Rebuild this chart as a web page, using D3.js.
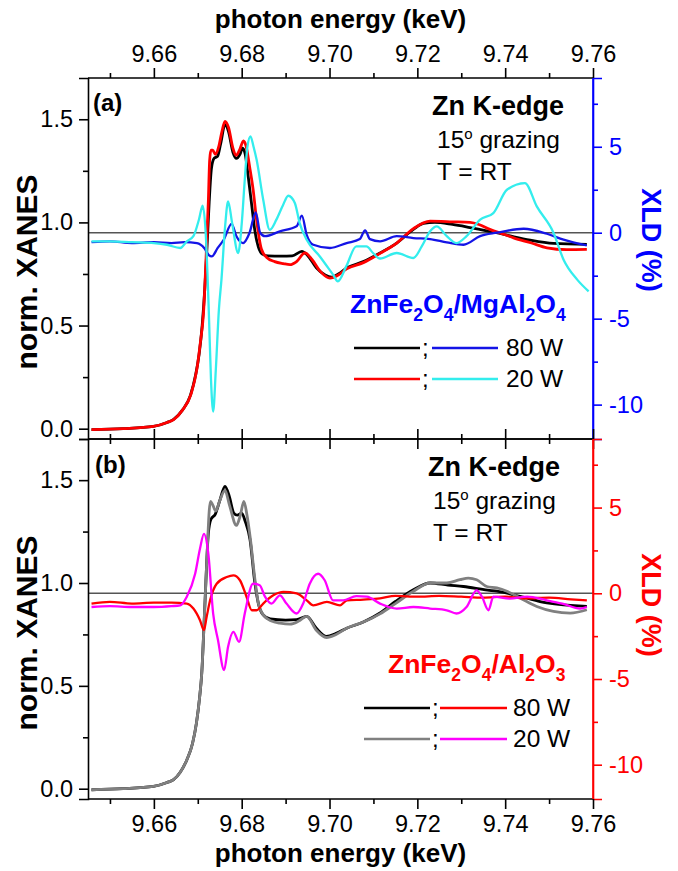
<!DOCTYPE html>
<html><head><meta charset="utf-8">
<script src="https://cdn.jsdelivr.net/npm/d3@7"></script>
<style>body{margin:0;background:#fff}svg{display:block}text{font-family:"Liberation Sans",Arial,sans-serif}</style>
</head><body><svg id="c" width="678" height="871"></svg>
<script>
// ---------- data ----------
const energyTicks = [9.66, 9.68, 9.70, 9.72, 9.74, 9.76];
const energyMinor = [9.65, 9.67, 9.69, 9.71, 9.73, 9.75];
const xanesTicks = [0.0, 0.5, 1.0, 1.5];
const xanesMinor = [0.25, 0.75, 1.25];
const xldTicks = [-10, -5, 0, 5];
const xldMinor = [-7.5, -2.5, 2.5, 7.5];

// panel (a) ZnFe2O4/MgAl2O4
const aXanes80 = [[9.6458,-0.005],[9.6530,0.0],[9.6599,0.011],[9.6630,0.03],[9.6645,0.045],[9.6665,0.09],[9.6683,0.16],[9.6695,0.26],[9.6703,0.36],[9.6710,0.50],[9.6716,0.68],[9.6721,0.88],[9.6726,1.10],[9.6731,1.26],[9.6737,1.31],[9.6745,1.32],[9.6752,1.38],[9.6762,1.475],[9.6770,1.44],[9.6780,1.34],[9.6788,1.31],[9.6796,1.33],[9.6802,1.36],[9.6808,1.33],[9.6815,1.22],[9.6823,1.08],[9.6830,0.96],[9.6838,0.88],[9.6848,0.845],[9.6860,0.838],[9.6890,0.837],[9.6915,0.838],[9.6937,0.86],[9.6950,0.84],[9.6970,0.78],[9.6990,0.745],[9.7005,0.735],[9.7020,0.75],[9.7040,0.78],[9.7077,0.81],[9.7115,0.852],[9.7153,0.90],[9.7191,0.966],[9.7214,0.995],[9.7240,1.0],[9.7280,0.99],[9.7320,0.975],[9.7380,0.95],[9.7420,0.93],[9.7457,0.914],[9.7510,0.898],[9.7586,0.893]];
const aXanes20 = [[9.6458,-0.005],[9.6530,0.0],[9.6599,0.011],[9.6630,0.03],[9.6645,0.044],[9.6665,0.09],[9.6685,0.17],[9.6698,0.29],[9.6706,0.42],[9.6713,0.56],[9.6720,0.885],[9.6724,1.10],[9.6727,1.30],[9.6730,1.35],[9.6734,1.35],[9.6740,1.33],[9.6748,1.37],[9.6755,1.44],[9.6762,1.49],[9.6770,1.46],[9.6780,1.36],[9.6787,1.325],[9.6795,1.35],[9.6804,1.395],[9.6810,1.37],[9.6818,1.27],[9.6826,1.16],[9.6834,1.01],[9.6845,0.87],[9.6857,0.83],[9.6875,0.81],[9.6895,0.80],[9.6910,0.795],[9.6925,0.81],[9.6944,0.852],[9.6960,0.82],[9.6980,0.76],[9.7001,0.73],[9.7020,0.745],[9.7039,0.775],[9.7077,0.805],[9.7115,0.85],[9.7153,0.90],[9.7191,0.97],[9.7229,1.006],[9.7280,1.003],[9.7320,1.0],[9.7340,0.99],[9.7365,0.966],[9.7400,0.94],[9.7419,0.925],[9.7460,0.90],[9.7495,0.877],[9.7540,0.868],[9.7586,0.869]];
const aXld80 = [[9.6458,-0.55],[9.6500,-0.5],[9.6550,-0.6],[9.6600,-0.55],[9.6640,-0.6],[9.6670,-0.55],[9.6698,-0.6],[9.6715,-0.9],[9.6725,-1.3],[9.6732,-1.38],[9.6745,-0.9],[9.6759,-0.41],[9.6777,0.52],[9.6788,-0.21],[9.6803,-0.6],[9.6818,0.0],[9.6832,1.18],[9.6842,0.0],[9.6853,-0.2],[9.6887,0.08],[9.6925,0.37],[9.6937,0.99],[9.6948,-0.12],[9.6963,-0.7],[9.7001,-0.89],[9.7039,-0.6],[9.7069,-0.37],[9.7081,0.14],[9.7092,-0.37],[9.7115,-0.5],[9.7153,-0.2],[9.7191,-0.31],[9.7229,-0.37],[9.7267,-0.56],[9.7305,-0.7],[9.7343,-0.2],[9.7381,0.0],[9.7442,0.23],[9.7495,-0.06],[9.7533,-0.4],[9.7586,-0.74]];
const aXld20 = [[9.6458,-0.5],[9.6500,-0.5],[9.6550,-0.55],[9.6600,-0.6],[9.6630,-0.7],[9.6660,-0.89],[9.6675,-0.5],[9.6690,-0.2],[9.6703,0.8],[9.6711,1.57],[9.6718,0.0],[9.6725,-4.5],[9.6730,-8.5],[9.6735,-10.4],[9.6741,-8.0],[9.6748,-4.5],[9.6754,-2.7],[9.6762,0.3],[9.6769,1.82],[9.6778,0.6],[9.6792,-1.18],[9.6800,0.5],[9.6807,3.08],[9.6813,5.0],[9.6820,5.6],[9.6827,5.0],[9.6834,4.24],[9.6849,1.92],[9.6864,0.17],[9.6879,0.76],[9.6894,1.6],[9.6906,2.15],[9.6921,1.73],[9.6932,0.56],[9.6948,-0.41],[9.6978,-1.38],[9.7008,-2.44],[9.7019,-2.83],[9.7038,-1.96],[9.7061,-0.8],[9.7084,-0.8],[9.7099,-1.18],[9.7115,-1.5],[9.7153,-1.18],[9.7191,-1.47],[9.7210,-0.8],[9.7229,0.08],[9.7244,0.37],[9.7267,-0.2],[9.7289,-0.6],[9.7312,-0.2],[9.7343,0.76],[9.7373,1.14],[9.7404,2.5],[9.7445,2.89],[9.7472,1.53],[9.7510,0.0],[9.7533,-1.57],[9.7564,-2.73],[9.7590,-3.41]];

// panel (b) ZnFe2O4/Al2O3
const bXanes80 = [[9.6458,-0.005],[9.6530,0.0],[9.6599,0.011],[9.6630,0.03],[9.6645,0.044],[9.6660,0.08],[9.6675,0.14],[9.6688,0.22],[9.6697,0.32],[9.6704,0.44],[9.6709,0.56],[9.6716,0.886],[9.6724,1.24],[9.6730,1.31],[9.6740,1.335],[9.6750,1.40],[9.6762,1.47],[9.6772,1.42],[9.6782,1.34],[9.6790,1.33],[9.6800,1.34],[9.6808,1.30],[9.6819,1.21],[9.6830,1.0],[9.6838,0.90],[9.6849,0.845],[9.6865,0.825],[9.6900,0.82],[9.6925,0.822],[9.6948,0.838],[9.6970,0.78],[9.6993,0.74],[9.7015,0.755],[9.7039,0.78],[9.7077,0.81],[9.7115,0.854],[9.7150,0.91],[9.7191,0.967],[9.7229,1.0],[9.7270,0.99],[9.7305,0.983],[9.7360,0.965],[9.7381,0.96],[9.7434,0.935],[9.7495,0.903],[9.7586,0.886]];
const bXanes20 = [[9.6458,-0.005],[9.6530,0.0],[9.6599,0.011],[9.6630,0.03],[9.6645,0.044],[9.6660,0.08],[9.6675,0.14],[9.6688,0.22],[9.6697,0.32],[9.6704,0.44],[9.6709,0.56],[9.6716,0.886],[9.6722,1.18],[9.6726,1.35],[9.6729,1.397],[9.6734,1.38],[9.6741,1.35],[9.6750,1.40],[9.6762,1.45],[9.6772,1.38],[9.6788,1.28],[9.6797,1.33],[9.6805,1.397],[9.6812,1.33],[9.6820,1.21],[9.6830,1.02],[9.6838,0.90],[9.6849,0.845],[9.6868,0.815],[9.6887,0.805],[9.6910,0.80],[9.6930,0.815],[9.6948,0.838],[9.6970,0.77],[9.6993,0.735],[9.7015,0.75],[9.7039,0.78],[9.7077,0.81],[9.7115,0.85],[9.7150,0.90],[9.7191,0.96],[9.7229,1.0],[9.7267,1.0],[9.7297,1.016],[9.7316,1.024],[9.7335,1.016],[9.7358,0.983],[9.7381,0.976],[9.7404,0.96],[9.7434,0.927],[9.7472,0.886],[9.7510,0.862],[9.7548,0.854],[9.7586,0.87]];
const bXld80 = [[9.6458,-0.6],[9.6500,-0.5],[9.6550,-0.6],[9.6600,-0.55],[9.6640,-0.55],[9.6675,-0.6],[9.6690,-0.89],[9.6705,-1.57],[9.6714,-2.15],[9.6720,-1.4],[9.6728,-0.41],[9.6743,0.56],[9.6766,0.95],[9.6781,1.05],[9.6796,0.76],[9.6811,-0.2],[9.6823,-0.99],[9.6834,-0.99],[9.6849,-0.6],[9.6872,-0.12],[9.6895,0.08],[9.6925,0.0],[9.6948,-0.41],[9.6963,-0.7],[9.6994,-0.5],[9.7024,-0.7],[9.7040,-0.41],[9.7077,-0.37],[9.7115,-0.3],[9.7150,-0.15],[9.7200,-0.2],[9.7250,-0.15],[9.7300,-0.2],[9.7350,-0.25],[9.7400,-0.2],[9.7450,-0.3],[9.7500,-0.25],[9.7550,-0.35],[9.7586,-0.41]];
const bXld20 = [[9.6458,-0.8],[9.6500,-0.75],[9.6550,-0.8],[9.6600,-0.8],[9.6640,-0.75],[9.6660,-0.7],[9.6675,-0.2],[9.6694,1.14],[9.6705,2.6],[9.6714,3.47],[9.6724,2.31],[9.6735,-1.18],[9.6746,-2.73],[9.6760,-4.48],[9.6769,-3.12],[9.6781,-2.25],[9.6794,-2.83],[9.6807,-1.18],[9.6826,0.56],[9.6841,0.47],[9.6853,-0.2],[9.6868,-0.6],[9.6887,-0.12],[9.6902,-0.6],[9.6925,-1.18],[9.6940,-0.6],[9.6955,0.56],[9.6974,1.14],[9.6989,0.76],[9.7008,-0.41],[9.7031,-0.41],[9.7061,-0.17],[9.7085,-0.2],[9.7115,-0.6],[9.7153,-0.89],[9.7191,-0.8],[9.7229,-0.89],[9.7267,-0.99],[9.7289,-1.18],[9.7312,-0.8],[9.7335,0.17],[9.7347,-0.2],[9.7362,-0.99],[9.7373,-0.2],[9.7410,-0.31],[9.7450,-0.2],[9.7495,-0.41],[9.7530,-0.6],[9.7571,-0.89],[9.7586,-0.8]];

// ---------- drawing ----------
const svg = d3.select("#c");
const L = 88, R = 593;
const x = d3.scaleLinear().domain([9.645, 9.76]).range([L, R]);
const FS = "23.5px";

function styleAxis(g, color, fs) {
  g.select(".domain").attr("stroke", color).attr("stroke-width", 1.6);
  g.selectAll(".tick line").attr("stroke", color).attr("stroke-width", 1.6);
  g.selectAll(".tick text").attr("fill", color).style("font-size", fs || FS)
    .style("font-family", '"Liberation Sans",Arial,sans-serif');
}

function panel(opt) {
  const top = opt.top, bot = opt.bot;
  const yL = d3.scaleLinear().domain([-0.05, 1.70]).range([bot, top]);
  const yR = d3.scaleLinear().domain([-12, 9]).range([bot, top]);
  const g = svg.append("g");

  // zero line of XLD
  g.append("line").attr("x1", L).attr("x2", R).attr("y1", yR(0)).attr("y2", yR(0))
    .attr("stroke", "#555").attr("stroke-width", 1.5);

  const lineL = d3.line().x(d => x(d[0])).y(d => yL(d[1])).curve(d3.curveMonotoneX);
  const lineR = d3.line().x(d => x(d[0])).y(d => yR(d[1])).curve(d3.curveMonotoneX);
  opt.xanes.forEach(s => g.append("path").datum(s.data).attr("d", lineL)
    .attr("fill", "none").attr("stroke", s.color).attr("stroke-width", 2.8).attr("stroke-linejoin", "round"));
  opt.xld.forEach(s => g.append("path").datum(s.data).attr("d", lineR)
    .attr("fill", "none").attr("stroke", s.color).attr("stroke-width", 2.3).attr("stroke-linejoin", "round"));

  // left axis
  const al = g.append("g").attr("transform", `translate(${L},0)`)
    .call(d3.axisLeft(yL).tickValues(xanesTicks).tickSize(9).tickPadding(6).tickFormat(d3.format(".1f")));
  styleAxis(al, "#000");
  const alm = g.append("g").attr("transform", `translate(${L},0)`)
    .call(d3.axisLeft(yL).tickValues(xanesMinor).tickSize(5).tickFormat(""));
  styleAxis(alm, "#000");
  alm.select(".domain").remove();

  // right axis
  const ar = g.append("g").attr("transform", `translate(${R},0)`)
    .call(d3.axisRight(yR).tickValues(xldTicks).tickSize(9).tickPadding(7).tickFormat(d3.format("d")));
  styleAxis(ar, opt.rc);
  ar.selectAll(".tick text").text(d => String(d));
  const arm = g.append("g").attr("transform", `translate(${R},0)`)
    .call(d3.axisRight(yR).tickValues(xldMinor).tickSize(5).tickFormat(""));
  styleAxis(arm, opt.rc);
  arm.select(".domain").remove();

  // top axis
  const at = g.append("g").attr("transform", `translate(0,${top})`)
    .call(d3.axisTop(x).tickValues(energyTicks).tickSize(10).tickPadding(6)
      .tickFormat(opt.topLabels ? d3.format(".2f") : ""));
  styleAxis(at, "#000");
  at.select(".domain").attr("d", `M${L},0H${R}`);
  const atm = g.append("g").attr("transform", `translate(0,${top})`)
    .call(d3.axisTop(x).tickValues(energyMinor).tickSize(5).tickFormat(""));
  styleAxis(atm, "#000"); atm.select(".domain").remove();

  // bottom axis
  const ab = g.append("g").attr("transform", `translate(0,${bot})`)
    .call(d3.axisBottom(x).tickValues(energyTicks).tickSize(10).tickPadding(6)
      .tickFormat(opt.botLabels ? d3.format(".2f") : ""));
  styleAxis(ab, "#000");
  ab.select(".domain").attr("d", `M${L},0H${R}`);
  const abm = g.append("g").attr("transform", `translate(0,${bot})`)
    .call(d3.axisBottom(x).tickValues(energyMinor).tickSize(5).tickFormat(""));
  styleAxis(abm, "#000"); abm.select(".domain").remove();
  // right frame colored over the last tick
  g.append("line").attr("x1", R).attr("x2", R).attr("y1", top).attr("y2", bot)
    .attr("stroke", opt.rc).attr("stroke-width", 1.6);

  // axis titles
  g.append("text").attr("transform", `translate(37,${opt.ylc}) rotate(-90)`)
    .attr("text-anchor", "middle").style("font-size", "30px").style("font-weight", "bold").text("norm. XANES");
  g.append("text").attr("transform", `translate(642,${opt.yrc}) rotate(90)`)
    .attr("text-anchor", "middle").style("font-size", "27px").style("font-weight", "bold")
    .attr("fill", opt.rc).text("XLD (%)");

  // panel label
  g.append("text").attr("x", opt.lab[0]).attr("y", opt.lab[1]).style("font-size", "24px")
    .style("font-weight", "bold").text(opt.label);

  // annotation
  const an = opt.ann;
  g.append("text").attr("x", an.x0).attr("y", an.y[0]).style("font-size", "27px").style("font-weight", "bold").text("Zn K-edge");
  const t2 = g.append("text").attr("x", an.x1).attr("y", an.y[1]).style("font-size", "24.5px");
  t2.append("tspan").text("15");
  t2.append("tspan").attr("dy", -9).style("font-size", "15px").text("o");
  t2.append("tspan").attr("dy", 9).text(" grazing");
  g.append("text").attr("x", an.x1).attr("y", an.y[2]).style("font-size", "24.5px").text("T = RT");

  // legend
  const lg = opt.leg;
  const tt = g.append("text").attr("x", lg.tx).attr("y", lg.ty).attr("fill", opt.rc)
    .style("font-size", "26.5px").style("font-weight", "bold");
  lg.title.forEach(p => {
    if (p.sub) tt.append("tspan").attr("dy", 8).style("font-size", "17.5px").text(p.t);
    else tt.append("tspan").attr("dy", p.after ? -8 : 0).text(p.t);
  });
  lg.rows.forEach((r, i) => {
    const yy = lg.ry[i];
    g.append("line").attr("x1", lg.l1[0]).attr("x2", lg.l1[1]).attr("y1", yy).attr("y2", yy)
      .attr("stroke", r.c1).attr("stroke-width", 2.4);
    g.append("text").attr("x", lg.semi).attr("y", yy + 8).style("font-size", "24px").text(";");
    g.append("line").attr("x1", lg.l2[0]).attr("x2", lg.l2[1]).attr("y1", yy).attr("y2", yy)
      .attr("stroke", r.c2).attr("stroke-width", 2.4);
    g.append("text").attr("x", lg.tx2).attr("y", yy + 8).style("font-size", "24.5px").text(r.label);
  });
}

const titleA = [{t:"ZnFe"},{t:"2",sub:true},{t:"O",after:true},{t:"4",sub:true},{t:"/MgAl",after:true},{t:"2",sub:true},{t:"O",after:true},{t:"4",sub:true}];
const titleB = [{t:"ZnFe"},{t:"2",sub:true},{t:"O",after:true},{t:"4",sub:true},{t:"/Al",after:true},{t:"2",sub:true},{t:"O",after:true},{t:"3",sub:true}];

panel({
  top: 78, bot: 439, rc: "#0000ff", topLabels: true, botLabels: false,
  xanes: [{data: aXanes80, color: "#000"}, {data: aXanes20, color: "#ff0000"}],
  xld: [{data: aXld80, color: "#1414e6"}, {data: aXld20, color: "#33eded"}],
  ylc: 272, yrc: 240, label: "(a)", lab: [93, 111],
  ann: {x0: 432, x1: 437, y: [115, 148, 180]},
  leg: {tx: 350, ty: 313, title: titleA, ry: [348, 379], l1: [354, 420], semi: 422, l2: [432, 498], tx2: 506,
        rows: [{c1: "#000", c2: "#1414e6", label: "80 W"}, {c1: "#ff0000", c2: "#33eded", label: "20 W"}]}
});
panel({
  top: 439, bot: 799, rc: "#ff0000", topLabels: false, botLabels: true,
  xanes: [{data: bXanes80, color: "#000"}, {data: bXanes20, color: "#808080"}],
  xld: [{data: bXld80, color: "#ff0000"}, {data: bXld20, color: "#ff00ff"}],
  ylc: 633, yrc: 605, label: "(b)", lab: [95, 473],
  ann: {x0: 428, x1: 433, y: [476, 509, 541]},
  leg: {tx: 388, ty: 673, title: titleB, ry: [708, 739], l1: [364, 430], semi: 432, l2: [440, 507], tx2: 513,
        rows: [{c1: "#000", c2: "#ff0000", label: "80 W"}, {c1: "#808080", c2: "#ff00ff", label: "20 W"}]}
});

// x titles
svg.append("text").attr("x", (L + R) / 2).attr("y", 28).attr("text-anchor", "middle")
  .style("font-size", "26px").style("font-weight", "bold").text("photon energy (keV)");
svg.append("text").attr("x", (L + R) / 2).attr("y", 862).attr("text-anchor", "middle")
  .style("font-size", "26px").style("font-weight", "bold").text("photon energy (keV)");
</script></body></html>
